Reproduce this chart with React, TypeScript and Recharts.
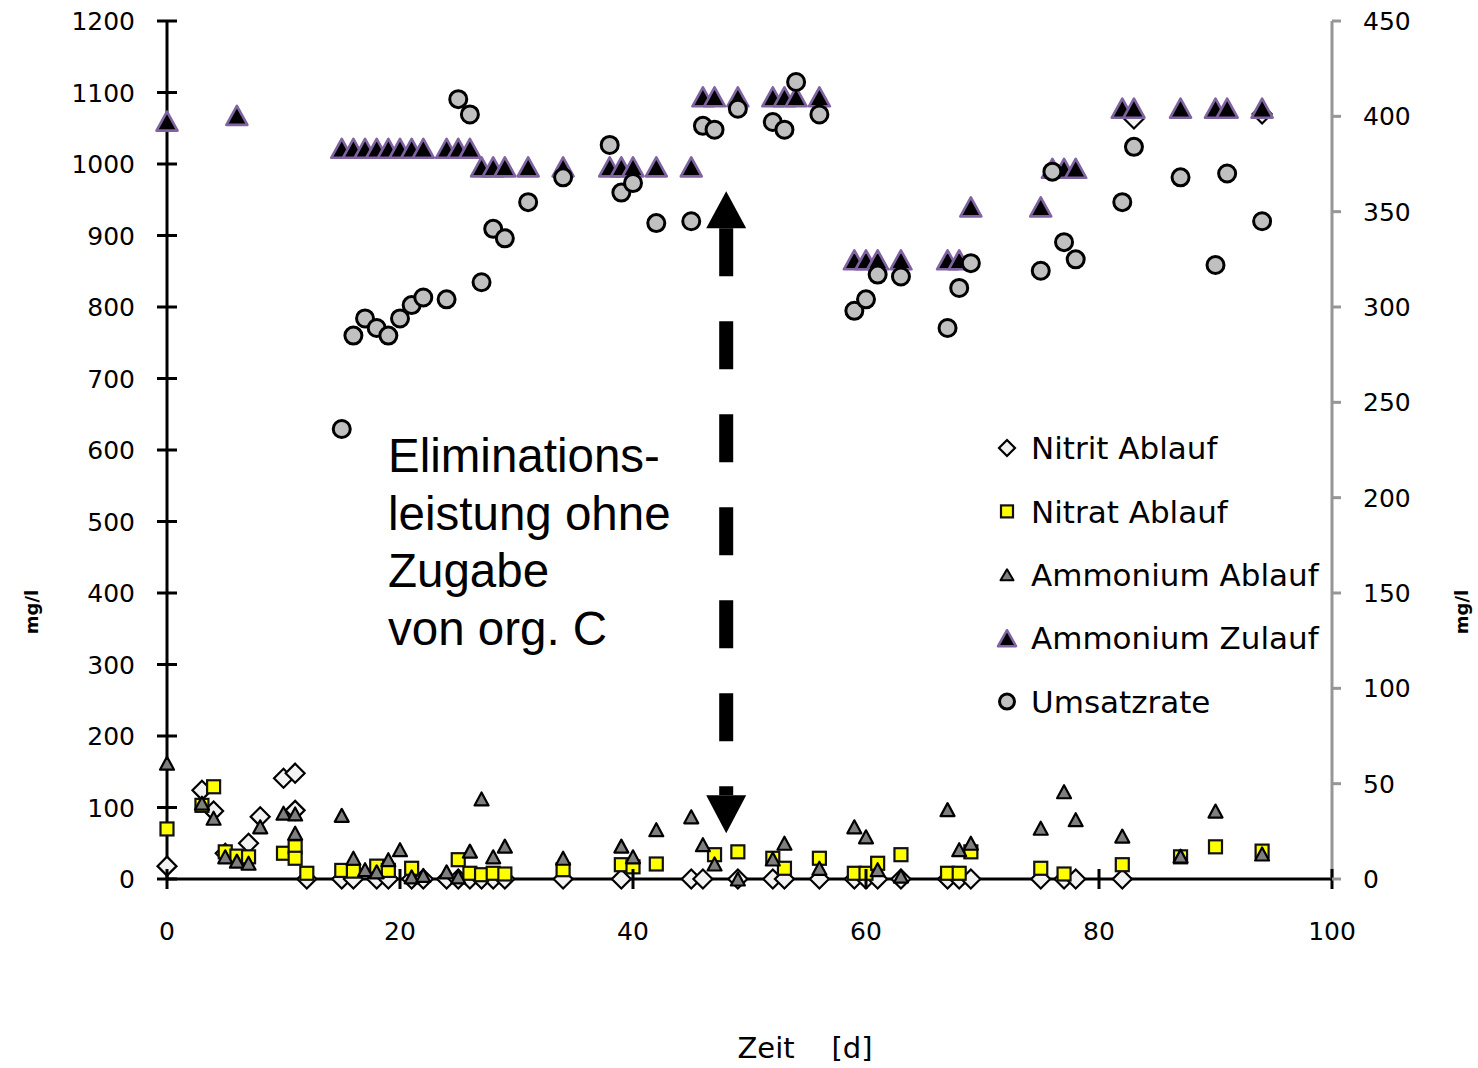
import { ScatterChart, Scatter, XAxis, YAxis, ReferenceLine, ReferenceDot } from "recharts";

// [Zeit (d), Wert]
const nitritAblauf: [number, number][] = [
  [0, 18], [3, 124], [4, 95], [5, 36], [7, 50], [8, 87], [10, 141], [11, 148], [11, 96],
  [12, 0], [15, 0], [16, 0], [18, 0], [19, 0], [21, 0], [22, 0], [24, 0], [25, 0], [26, 0],
  [27, 0], [28, 0], [29, 0], [34, 0], [39, 0], [45, 0], [46, 0], [49, 0], [52, 0], [53, 0],
  [56, 0], [59, 0], [60, 0], [61, 0], [63, 0], [67, 0], [68, 0], [69, 0], [75, 0], [77, 0],
  [78, 0], [82, 0], [83, 1063], [94, 1070],
];

const nitratAblauf: [number, number][] = [
  [0, 70], [3, 103], [4, 129], [5, 38], [6, 32], [7, 31], [10, 36], [11, 45], [11, 29],
  [12, 8], [15, 12], [16, 11], [18, 18], [19, 12], [21, 15], [25, 27], [26, 8], [27, 6],
  [28, 8], [29, 7], [34, 13], [39, 20], [40, 17], [42, 21], [47, 34], [49, 38], [52, 29],
  [53, 15], [56, 29], [59, 8], [60, 8], [61, 22], [63, 34], [67, 8], [68, 8], [69, 38],
  [75, 15], [77, 7], [82, 20], [87, 31], [90, 45], [94, 39],
];

const ammoniumAblauf: [number, number][] = [
  [0, 162], [3, 106], [4, 85], [5, 31], [6, 25], [7, 22], [8, 73], [10, 92], [11, 91],
  [11, 64], [15, 89], [16, 29], [17, 13], [18, 10], [19, 27], [20, 41], [21, 3], [22, 5],
  [24, 10], [25, 3], [26, 39], [27, 112], [28, 31], [29, 46], [34, 29], [39, 46], [40, 31],
  [42, 69], [45, 87], [46, 48], [47, 21], [49, 0], [52, 28], [53, 50], [56, 15], [59, 73],
  [60, 59], [61, 13], [63, 4], [67, 97], [68, 41], [69, 50], [75, 71], [77, 122], [78, 83],
  [82, 60], [87, 32], [90, 95], [94, 35],
];

const ammoniumZulauf: [number, number][] = [
  [0, 1060], [6, 1068], [15, 1022], [16, 1022], [17, 1022], [18, 1022], [19, 1022],
  [20, 1022], [21, 1022], [22, 1022], [24, 1022], [25, 1022], [26, 1022], [27, 996],
  [28, 996], [29, 996], [31, 996], [34, 996], [38, 996], [39, 996], [40, 996], [42, 996],
  [45, 996], [46, 1094], [47, 1094], [49, 1094], [52, 1094], [53, 1094], [54, 1094],
  [56, 1094], [59, 866], [60, 866], [61, 866], [63, 866], [67, 866], [68, 866], [69, 940],
  [75, 940], [76, 994], [77, 994], [78, 994], [82, 1078], [83, 1078], [87, 1078],
  [90, 1078], [91, 1078], [94, 1078],
];

// rechte Achse
const umsatzrate: [number, number][] = [
  [15, 236], [16, 285], [17, 294], [18, 289], [19, 285], [20, 294], [21, 301], [22, 305],
  [24, 304], [25, 409], [26, 401], [27, 313], [28, 341], [29, 336], [31, 355], [34, 368],
  [38, 385], [39, 360], [40, 365], [42, 344], [45, 345], [46, 395], [47, 393], [49, 404],
  [52, 397], [53, 393], [54, 418], [56, 401], [59, 298], [60, 304], [61, 317], [63, 316],
  [67, 289], [68, 310], [69, 323], [75, 319], [76, 371], [77, 334], [78, 325], [82, 355],
  [83, 384], [87, 368], [90, 322], [91, 370], [94, 345],
];

const xTicks = [0, 20, 40, 60, 80, 100];
const leftTicks = [0, 100, 200, 300, 400, 500, 600, 700, 800, 900, 1000, 1100, 1200];
const rightTicks = [0, 50, 100, 150, 200, 250, 300, 350, 400, 450];

const legendItems = ["Nitrit Ablauf", "Nitrat Ablauf", "Ammonium Ablauf", "Ammonium Zulauf", "Umsatzrate"];
const noteLines = ["Eliminations-", "leistung ohne", "Zugabe", "von org. C"];

const FONT = "'DejaVu Sans', sans-serif";
const pts = (rows: [number, number][]) => rows.map(([x, y]) => ({ x, y }));

const diamond = (cx: number, cy: number, r: number) => (
  <polygon points={`${cx},${cy - r} ${cx + r},${cy} ${cx},${cy + r} ${cx - r},${cy}`} fill="#f2f2f2" stroke="#000" strokeWidth={2.2} />
);
const square = (cx: number, cy: number, s: number) => (
  <rect x={cx - s / 2} y={cy - s / 2} width={s} height={s} fill="#ffff00" stroke="#111" strokeWidth={2.2} />
);
const triangle = (cx: number, cy: number, w: number, h: number, fill: string, stroke: string, sw: number) => (
  <polygon points={`${cx},${cy - h / 2} ${cx + w / 2},${cy + h / 2} ${cx - w / 2},${cy + h / 2}`} fill={fill} stroke={stroke} strokeWidth={sw} strokeLinejoin="round" />
);
const circle = (cx: number, cy: number, r: number) => (
  <circle cx={cx} cy={cy} r={r} fill="#c0c0c0" stroke="#000" strokeWidth={3} />
);

const markers = [
  (cx: number, cy: number) => diamond(cx, cy, 8),
  (cx: number, cy: number) => square(cx, cy, 12),
  (cx: number, cy: number) => triangle(cx, cy, 13, 11, "#7f7f7f", "#000", 2),
  (cx: number, cy: number) => triangle(cx, cy, 18, 16, "#000", "#8064a2", 2.5),
  (cx: number, cy: number) => circle(cx, cy, 7.5),
];

function LeftTick({ x, y, payload }: any) {
  return (
    <g>
      <line x1={x - 10} x2={x + 10} y1={y} y2={y} stroke="#000" strokeWidth={3} />
      <text x={x - 32} y={y} dy="0.36em" textAnchor="end" fontSize={25} fontFamily={FONT} fill="#000">
        {payload.value}
      </text>
    </g>
  );
}

function RightTick({ x, y, payload }: any) {
  return (
    <g>
      <line x1={x} x2={x + 9} y1={y} y2={y} stroke="#969696" strokeWidth={3} />
      <text x={x + 31} y={y} dy="0.36em" textAnchor="start" fontSize={25} fontFamily={FONT} fill="#000">
        {payload.value}
      </text>
    </g>
  );
}

function BottomTick({ x, y, payload }: any) {
  return (
    <g>
      <line x1={x} x2={x} y1={y - 10} y2={y + 10} stroke="#000" strokeWidth={3} />
      <text x={x} y={y + 52} dy="0.36em" textAnchor="middle" fontSize={25} fontFamily={FONT} fill="#000">
        {payload.value}
      </text>
    </g>
  );
}

export default function App() {
  return (
    <div style={{ position: "absolute", left: 0, top: 0, width: 1478, height: 1068, background: "#fff" }}>
      <ScatterChart width={1478} height={1068} margin={{ top: 21, right: 66, bottom: 129, left: 87 }}>
        <XAxis
          type="number"
          dataKey="x"
          domain={[0, 100]}
          ticks={xTicks}
          height={60}
          tickSize={0}
          tickMargin={0}
          tickLine={false}
          axisLine={{ stroke: "#000", strokeWidth: 3 }}
          tick={<BottomTick />}
        />
        <YAxis
          yAxisId="left"
          type="number"
          dataKey="y"
          domain={[0, 1200]}
          ticks={leftTicks}
          width={80}
          tickSize={0}
          tickMargin={0}
          tickLine={false}
          axisLine={{ stroke: "#000", strokeWidth: 3 }}
          tick={<LeftTick />}
        />
        <YAxis
          yAxisId="right"
          orientation="right"
          type="number"
          dataKey="y"
          domain={[0, 450]}
          ticks={rightTicks}
          width={80}
          tickSize={0}
          tickMargin={0}
          tickLine={false}
          axisLine={{ stroke: "#969696", strokeWidth: 3 }}
          tick={<RightTick />}
        />
        <Scatter name="Nitrit Ablauf" yAxisId="left" data={pts(nitritAblauf)} isAnimationActive={false}
          shape={(p: any) => diamond(p.cx, p.cy, 9.5)} />
        <Scatter name="Nitrat Ablauf" yAxisId="left" data={pts(nitratAblauf)} isAnimationActive={false}
          shape={(p: any) => square(p.cx, p.cy, 13)} />
        <Scatter name="Ammonium Ablauf" yAxisId="left" data={pts(ammoniumAblauf)} isAnimationActive={false}
          shape={(p: any) => triangle(p.cx, p.cy, 14, 13, "#7f7f7f", "#000", 2.2)} />
        <Scatter name="Ammonium Zulauf" yAxisId="left" data={pts(ammoniumZulauf)} isAnimationActive={false}
          shape={(p: any) => triangle(p.cx, p.cy, 21, 19, "#000", "#8064a2", 2.6)} />
        <Scatter name="Umsatzrate" yAxisId="right" data={pts(umsatzrate)} isAnimationActive={false}
          shape={(p: any) => circle(p.cx, p.cy, 8.5)} />
        <ReferenceLine
          yAxisId="left"
          segment={[{ x: 48, y: 910 }, { x: 48, y: 117 }]}
          stroke="#000"
          strokeWidth={14}
          strokeDasharray="48 45"
        />
        <ReferenceDot yAxisId="left" x={48} y={910} r={1}
          shape={(p: any) => <polygon points={`${p.cx - 20},${p.cy} ${p.cx + 20},${p.cy} ${p.cx},${p.cy - 37}`} fill="#000" />} />
        <ReferenceDot yAxisId="left" x={48} y={117} r={1}
          shape={(p: any) => <polygon points={`${p.cx - 20},${p.cy} ${p.cx + 20},${p.cy} ${p.cx},${p.cy + 38}`} fill="#000" />} />
      </ScatterChart>
      <svg width={1478} height={1068} style={{ position: "absolute", left: 0, top: 0, pointerEvents: "none" }}>
        {noteLines.map((t, i) => (
          <text key={t} x={388} y={472 + i * 57.5} fontSize={47.5} fontFamily="'Liberation Sans', Arial, sans-serif" fill="#000">
            {t}
          </text>
        ))}
        {legendItems.map((t, i) => {
          const cy = 448 + i * 63.4;
          return (
            <g key={t}>
              {markers[i](1007, cy)}
              <text x={1031} y={cy} dy="0.36em" fontSize={31} fontFamily={FONT} fill="#000">
                {t}
              </text>
            </g>
          );
        })}
        <text x={805} y={1048} dy="0.36em" textAnchor="middle" fontSize={29} fontFamily={FONT} fill="#000" style={{ whiteSpace: "pre" }}>
          {"Zeit    [d]"}
        </text>
        <text transform="translate(32,612) rotate(-90)" textAnchor="middle" dy="0.36em" fontSize={18} fontWeight="bold" fontFamily={FONT} fill="#000">
          mg/l
        </text>
        <text transform="translate(1462,612) rotate(-90)" textAnchor="middle" dy="0.36em" fontSize={18} fontWeight="bold" fontFamily={FONT} fill="#000">
          mg/l
        </text>
      </svg>
    </div>
  );
}
